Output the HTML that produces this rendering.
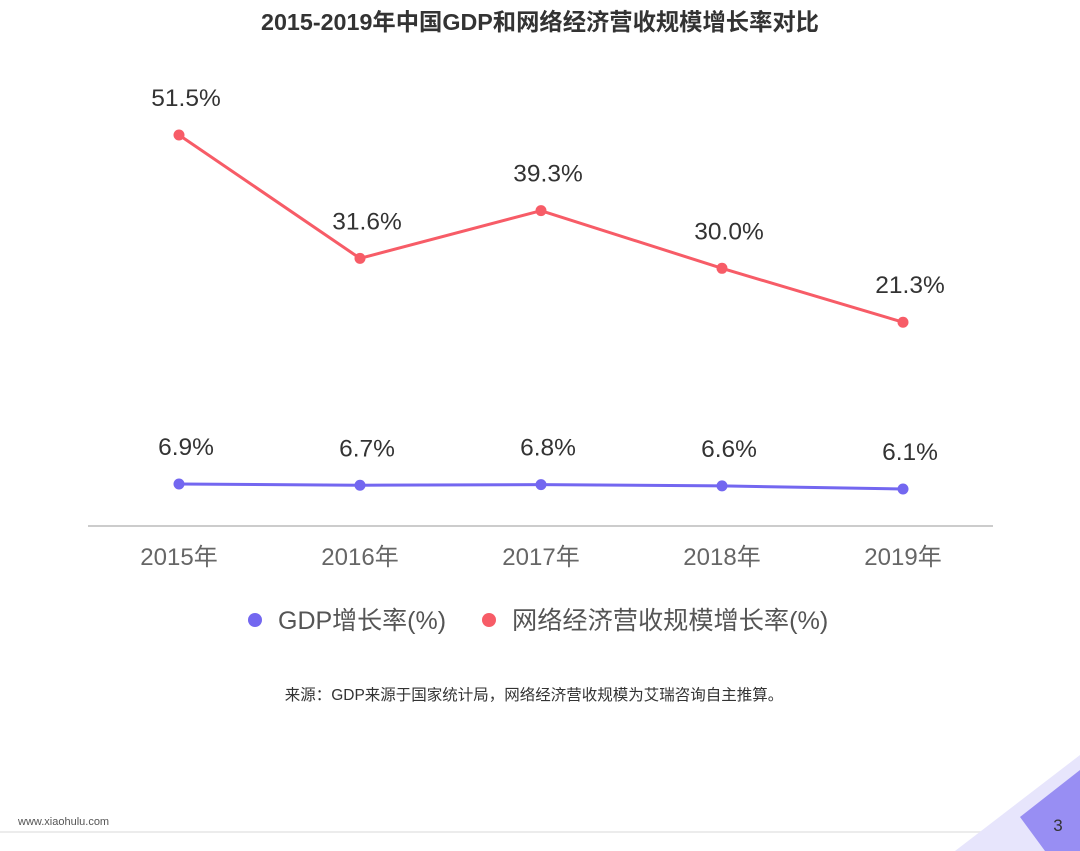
<!DOCTYPE html>
<html><head><meta charset="utf-8"><style>
body{margin:0;width:1080px;height:851px;background:#fff;overflow:hidden;font-family:"Liberation Sans","Noto Sans CJK SC",sans-serif;}
svg{position:absolute;left:0;top:0}
</style></head><body>
<svg width="1080" height="851">
<text x="540" y="30" text-anchor="middle" font-size="23.3" font-weight="bold" fill="#333">2015-2019年中国GDP和网络经济营收规模增长率对比</text>
<line x1="88" y1="526" x2="993" y2="526" stroke="#ccc" stroke-width="2"/>
<g id="xl"></g><g id="series"></g>
<g>
<circle cx="255" cy="620" r="7" fill="#7367f0"/>
<text x="278" y="629" font-size="25" fill="#555">GDP增长率(%)</text>
<circle cx="489" cy="620" r="7" fill="#f75c67"/>
<text x="512" y="629" font-size="25.2" fill="#555">网络经济营收规模增长率(%)</text>
</g>
<text x="534" y="700" text-anchor="middle" font-size="15.5" fill="#333">来源：GDP来源于国家统计局，网络经济营收规模为艾瑞咨询自主推算。</text>
<text x="18" y="825" font-size="11" fill="#555">www.xiaohulu.com</text>
<line x1="0" y1="832" x2="1080" y2="832" stroke="#e6e6e6" stroke-width="1.5"/>
<polygon points="1080,755 1080,851 955,851" fill="#e7e5fc"/>
<polygon points="1020,817 1080,770 1080,851 1045,851" fill="#988ef3"/>
<text x="1058" y="831" text-anchor="middle" font-size="17" fill="#333">3</text>
</svg>
<script>
const years=["2015年","2016年","2017年","2018年","2019年"];
const netRate=[51.5,31.6,39.3,30.0,21.3];
const gdpRate=[6.9,6.7,6.8,6.6,6.1];
const NS="http://www.w3.org/2000/svg";
const xs=i=>179+i*181;
const yNet=v=>135+(51.5-v)*6.2;
const yGdp=v=>484+(6.9-v)*6.25;
function mk(t,a,p){const e=document.createElementNS(NS,t);for(const k in a)e.setAttribute(k,a[k]);p.appendChild(e);return e;}
const xl=document.getElementById('xl'),sg=document.getElementById('series');
years.forEach((y,i)=>{const t=mk('text',{x:xs(i),y:565,'text-anchor':'middle','font-size':24,fill:'#666'},xl);t.textContent=y;

});
function draw(vals,yf,col,name){
 const pl=mk('polyline',{points:vals.map((v,i)=>xs(i)+','+yf(v)).join(' '),fill:'none',stroke:col,'stroke-width':3},sg);
 
 
 vals.forEach((v,i)=>{const c=mk('circle',{cx:xs(i),cy:yf(v),r:5.5,fill:col},sg);
  
  
  const t=mk('text',{x:xs(i)+7,y:yf(v)-29,'text-anchor':'middle','font-size':24.5,fill:'#333'},sg);t.textContent=v.toFixed(1)+'%';
  
  });
}
draw(netRate,yNet,'#f75c67','net');
draw(gdpRate,yGdp,'#7367f0','gdp');
</script>
</body></html>
